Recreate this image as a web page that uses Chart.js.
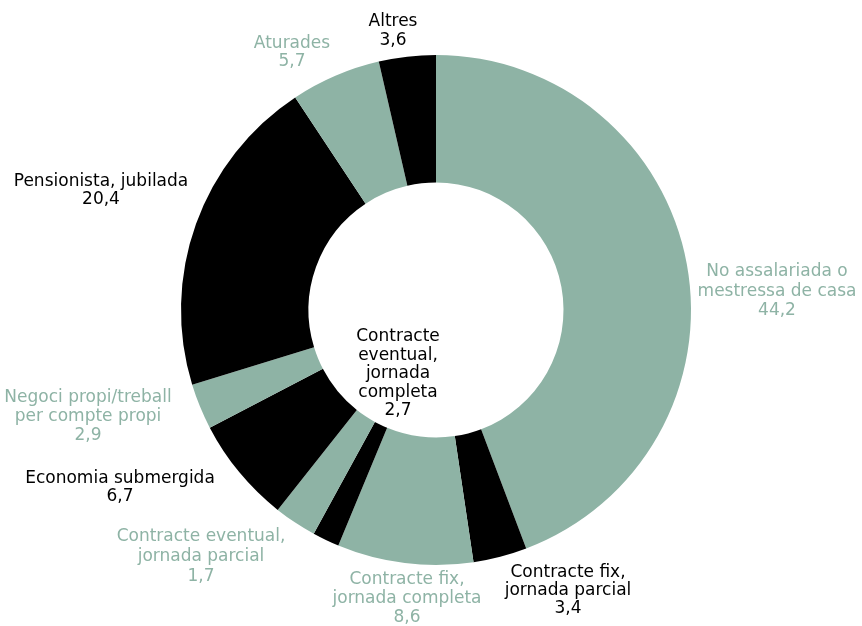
<!DOCTYPE html>
<html>
<head>
<meta charset="utf-8">
<script src="https://cdn.jsdelivr.net/npm/chart.js@4/dist/chart.umd.min.js"></script>
<style>
html,body{margin:0;padding:0;background:#fff;}
#wrap{width:862px;height:626px;position:relative;}
</style>
</head>
<body>
<div id="wrap"><canvas id="c" width="862" height="626"></canvas></div>
<script>
// Categories (clockwise from top)
const categories = [
  "No assalariada o mestressa de casa",
  "Contracte fix, jornada parcial",
  "Contracte fix, jornada completa",
  "Contracte eventual, jornada completa",
  "Contracte eventual, jornada parcial",
  "Economia submergida",
  "Negoci propi/treball per compte propi",
  "Pensionista, jubilada",
  "Aturades",
  "Altres"
];
// Segment sizes as drawn in the picture
const segmentValues = [44.2, 3.4, 8.6, 1.7, 2.7, 6.7, 2.9, 20.4, 5.7, 3.6];
// Value labels as printed in the picture
const labelValues = ["44,2", "3,4", "8,6", "2,7", "1,7", "6,7", "2,9", "20,4", "5,7", "3,6"];
// Label lines
const labelLines = [
  ["No assalariada o", "mestressa de casa"],
  ["Contracte fix,", "jornada parcial"],
  ["Contracte fix,", "jornada completa"],
  ["Contracte", "eventual,", "jornada", "completa"],
  ["Contracte eventual,", "jornada parcial"],
  ["Economia submergida"],
  ["Negoci propi/treball", "per compte propi"],
  ["Pensionista, jubilada"],
  ["Aturades"],
  ["Altres"]
];

const GREEN = "#8eb3a5";
const BLACK = "#000000";
const segColors = segmentValues.map((v, i) => i % 2 === 0 ? GREEN : BLACK);
const textColors = [GREEN, BLACK, GREEN, BLACK, GREEN, BLACK, GREEN, BLACK, GREEN, BLACK];

// label anchor (center x, first line y) and line height
const labelPos = [
  [777, 272, 19.5],
  [568, 573, 18],
  [407, 580, 19],
  [398, 337, 18.5],
  [201, 537, 20],
  [120, 479, 18],
  [88, 398, 19],
  [101, 182, 18],
  [292, 44, 18],
  [393, 22, 19]
];

const labelPlugin = {
  id: 'labels',
  afterDraw(chart) {
    const ctx = chart.ctx;
    ctx.save();
    ctx.font = '17px "DejaVu Sans", sans-serif';
    ctx.textAlign = 'center';
    ctx.textBaseline = 'middle';
    categories.forEach((c, i) => {
      const lines = labelLines[i].concat([labelValues[i]]);
      const [x, y, lh] = labelPos[i];
      ctx.fillStyle = textColors[i];
      lines.forEach((t, k) => ctx.fillText(t, x, y + k * lh));
    });
    ctx.restore();
  }
};

new Chart(document.getElementById('c'), {
  type: 'doughnut',
  data: {
    labels: categories,
    datasets: [{
      data: segmentValues,
      backgroundColor: segColors,
      borderWidth: 0,
      hoverOffset: 0
    }]
  },
  options: {
    responsive: false,
    animation: false,
    cutout: '50%',
    layout: { padding: { left: 181, right: 171, top: 55, bottom: 61 } },
    plugins: { legend: { display: false }, tooltip: { enabled: false } }
  },
  plugins: [labelPlugin]
});
</script>
</body>
</html>
